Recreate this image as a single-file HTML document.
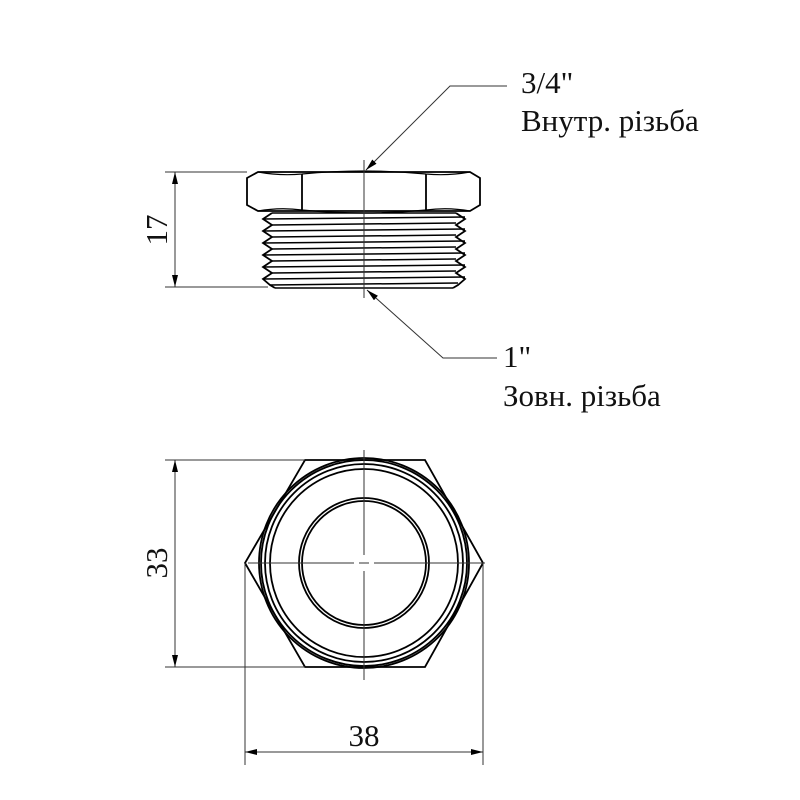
<!DOCTYPE html>
<html><head><meta charset="utf-8"><style>
html,body{margin:0;padding:0;background:#fff;width:800px;height:800px;overflow:hidden}
text{font-family:"Liberation Serif",serif;fill:#111}
</style></head><body>
<svg width="800" height="800" viewBox="0 0 800 800" xmlns="http://www.w3.org/2000/svg">
<defs><marker id="a" markerWidth="12" markerHeight="6" refX="12" refY="3" orient="auto-start-reverse" markerUnits="userSpaceOnUse"><path d="M0,0 L12,3 L0,6z" fill="#000"/></marker></defs>
<g fill="none" stroke="#000" stroke-width="1.8">
<path d="M247,178 L258,172 L470,172 L480,178 L480,205 L470,211 L258,211 L247,205 Z"/>
<path d="M302,174 L302,210 M426,174 L426,210"/>
<path d="M258,172 Q280,176 302,174 M302,174 Q364,168 426,174 M426,174 Q448,176 470,172" stroke-width="1.2"/>
<path d="M258,211 Q280,207 302,210 M302,210 Q364,216 426,210 M426,210 Q448,207 470,211" stroke-width="1.2"/>
<path d="M272,213 L263,219 L272,225 L263,231 L272,237 L263,243 L272,249 L263,255 L272,261 L263,267 L272,273 L263,279 L270,285 L275,288"/>
<path d="M456,213 L465,219 L456,225 L465,231 L456,237 L465,243 L456,249 L465,255 L456,261 L465,267 L456,273 L465,279 L458,285 L453,288"/>
<path d="M272,213 L456,213 M263,219 L465,217 M272,225 L456,223 M263,231 L465,229 M272,237 L456,235 M263,243 L465,241 M272,249 L456,247 M263,255 L465,253 M272,261 L456,259 M263,267 L465,265 M272,273 L456,271 M263,279 L465,277 M270,285 L458,283 M275,288 L453,288" stroke-width="1.5"/>
<path d="M305,460 L425,460 L483,563 L425,667 L305,667 L245,563 Z"/>
<circle cx="364" cy="563" r="105"/><circle cx="364" cy="563" r="103"/>
<circle cx="364" cy="563" r="99"/><circle cx="364" cy="563" r="94"/>
<circle cx="364" cy="563" r="65"/><circle cx="364" cy="563" r="62"/>
</g>
<g fill="none" stroke="#333" stroke-width="1">
<path d="M364,160 L364,298"/>
<path d="M165,172 L247,172 M165,287 L268,287"/>
<path d="M175,172 L175,287" marker-start="url(#a)" marker-end="url(#a)"/>
<path d="M507,86 L450,86 L366,170" marker-end="url(#a)"/>
<path d="M497,358 L443,358 L367,290" marker-end="url(#a)"/>
<path d="M364,450 L364,555 M364,571 L364,680 M248,563 L354,563 M374,563 L485,563 M359,563 L369,563"/>
<path d="M165,460 L305,460 M165,667 L305,667"/>
<path d="M175,460 L175,667" marker-start="url(#a)" marker-end="url(#a)"/>
<path d="M245,563 L245,765 M483,563 L483,765"/>
<path d="M245,752 L483,752" marker-start="url(#a)" marker-end="url(#a)"/>
</g>
<text x="521" y="93" font-size="31">3/4"</text>
<text x="521" y="131" font-size="31">Внутр. різьба</text>
<text x="503" y="367" font-size="31">1"</text>
<text x="503" y="406" font-size="31">Зовн. різьба</text>
<text transform="translate(167,230) rotate(-90)" font-size="31" text-anchor="middle">17</text>
<text transform="translate(167,563) rotate(-90)" font-size="31" text-anchor="middle">33</text>
<text x="364" y="746" font-size="31" text-anchor="middle">38</text>
</svg>
</body></html>
